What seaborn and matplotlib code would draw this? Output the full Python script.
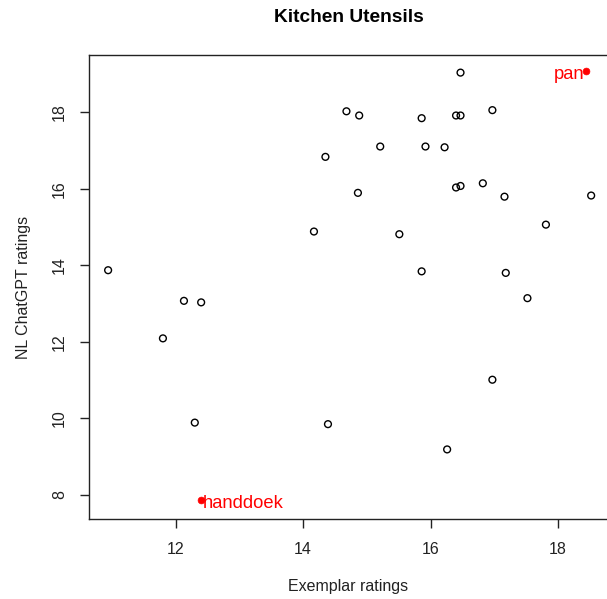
import matplotlib
matplotlib.use("Agg")
import matplotlib.pyplot as plt
import seaborn as sns
import pandas as pd

# Exemplar ratings vs. ChatGPT ratings for kitchen utensils
exemplar = [14.68, 14.35, 14.17, 10.94, 16.47, 18.44, 14.88, 15.86, 16.40, 16.47,
            16.97, 15.21, 15.92, 16.22, 14.86, 16.40, 16.47, 16.82, 17.16, 18.52,
            17.81, 15.51, 15.86, 17.18, 12.13, 12.40, 11.80, 12.30, 14.39, 12.40,
            17.52, 16.97, 16.26]
chatgpt = [18.02, 16.83, 14.88, 13.87, 19.03, 19.07, 17.91, 17.84, 17.91, 17.91,
           18.05, 17.10, 17.10, 17.08, 15.89, 16.03, 16.07, 16.14, 15.79, 15.82,
           15.06, 14.81, 13.84, 13.80, 13.07, 13.03, 12.09, 9.89, 9.85, 7.87,
           13.14, 11.01, 9.19]
words = [""] * len(exemplar)
words[5] = "pan"
words[29] = "handdoek"

df = pd.DataFrame({"exemplar": exemplar, "chatgpt": chatgpt, "word": words})
plain = df[df["word"] == ""]
marked = df[df["word"] != ""]

sns.set_theme(style="white")
plt.rcParams["font.family"] = ["Liberation Sans", "DejaVu Sans"]

W, H = 607, 599
fig = plt.figure(figsize=(W / 100, H / 100), dpi=100)
left, right, top, bottom = 89, 609, 55, 519
ax = fig.add_axes([left / W, 1 - bottom / H, (right - left) / W, (bottom - top) / H])

sns.scatterplot(data=plain, x="exemplar", y="chatgpt", ax=ax, marker="o",
                s=24, facecolor="none", edgecolor="black", linewidth=1.0)
sns.scatterplot(data=marked, x="exemplar", y="chatgpt", ax=ax, marker="o",
                s=24, color="red", edgecolor="red", linewidth=0.5)

for _, r in marked.iterrows():
    if r["word"] == "pan":
        offset, ha = (-2, -8), "right"
    else:
        offset, ha = (2, -8), "left"
    ax.annotate(r["word"], (r["exemplar"], r["chatgpt"]), xytext=offset,
                textcoords="offset pixels", color="red", fontsize=13.2,
                ha=ha, va="baseline")

ax.set_xlim(10.64, 18.80)
ax.set_ylim(7.373, 19.49)
ax.set_xticks([12, 14, 16, 18])
ax.set_yticks([8, 10, 12, 14, 16, 18])

for s in ax.spines.values():
    s.set_color("#222222")
    s.set_linewidth(1.0)

ax.tick_params(axis="both", direction="out", length=6.8, width=1, color="#222222",
               labelsize=11.5, labelcolor="#222222", bottom=True, left=True)
ax.tick_params(axis="x", pad=9.5)
ax.tick_params(axis="y", pad=9)
for lab in ax.get_yticklabels():
    lab.set_rotation(90)
    lab.set_va("center")

ax.set_xlabel("Exemplar ratings", fontsize=11.5, color="#222222")
ax.set_ylabel("NL ChatGPT ratings", fontsize=11.5, color="#222222")
ax.xaxis.set_label_coords((348.5 - left) / (right - left), -(587 - bottom) / (bottom - top))
ax.xaxis.label.set_va("center")
ax.yaxis.set_label_coords(-(left - 24) / (right - left), 0.5)
ax.yaxis.label.set_va("center")

fig.text(348.5 / W, 1 - 18 / H, "Kitchen Utensils", fontsize=13.8, fontweight="bold",
         ha="center", va="center", color="black")

fig.savefig("out.png", dpi=100)
